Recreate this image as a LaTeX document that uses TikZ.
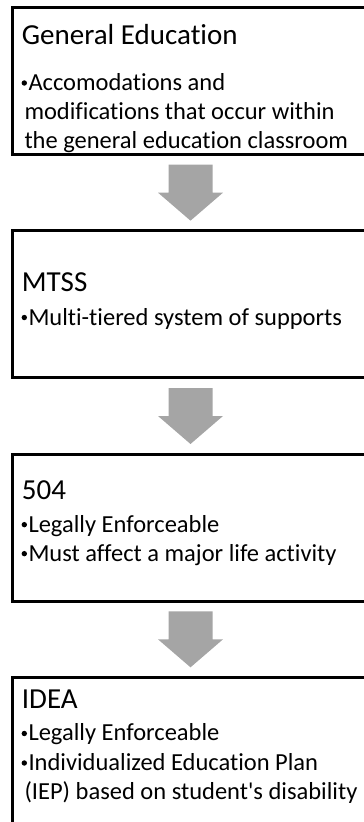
\documentclass[tikz,border=0pt]{standalone}
\usepackage{fontspec}
\setmainfont{Carlito}[Ligatures={NoCommon,NoRequired,NoContextual}]
\usetikzlibrary{positioning, calc}

\definecolor{arrowgray}{RGB}{165,165,165}

\begin{document}
\begin{tikzpicture}[x=1pt, y=-1pt,
    stage/.style={rectangle, draw=black, line width=3pt, minimum width=356pt, minimum height=147pt, outer sep=0pt, inner sep=0pt},
    title/.style={anchor=base west, inner sep=0pt, font=\fontsize{29}{35}\selectfont},
    item/.style={anchor=base west, inner sep=0pt, font=\fontsize{24.5}{29}\selectfont}
  ]
  \useasboundingbox (0,0) rectangle (364,822);
  \clip (0,0) rectangle (364,822);

  % Stages
  \node[stage] (s1) at (190.5,81) {};
  \node[stage, below=76.33pt of s1] (s2) {};
  \node[stage, below=76.33pt of s2] (s3) {};
  \node[stage, below=76.33pt of s3] (s4) {};

  % Arrows between stages
  \foreach \a/\b in {s1/s2, s2/s3, s3/s4} {
    \coordinate (m) at ($(\a.south)!0.5!(\b.north)$);
    \fill[arrowgray] ($(m)+(-22,-28)$) -- ($(m)+(22,-28)$) -- ($(m)+(22,0)$) -- ($(m)+(32.5,0)$)
      -- ($(m)+(0,28)$) -- ($(m)+(-32.5,0)$) -- ($(m)+(-22,0)$) -- cycle;
  }

  % General Education
  \node[title] (t1) at ($(s1.north west)+(9.2,37)$) {General Education};
  \node[item] (i1a) at ($(s1.north west)+(15.8,83)$) {Accomodations and};
  \node[item] (i1b) at ($(s1.north west)+(11.8,112)$) {modifications that occur within};
  \node[item] (i1c) at ($(s1.north west)+(11.8,141)$) {the general education classroom};

  % MTSS
  \node[title] (t2) at ($(s2.north west)+(9.2,60.2)$) {MTSS};
  \node[item] (i2a) at ($(s2.north west)+(15.8,94.2)$) {Multi-tiered system of supports};

  % 504
  \node[title] (t3) at ($(s3.north west)+(9.2,45.8)$) {504};
  \node[item] (i3a) at ($(s3.north west)+(15.8,78)$) {Legally Enforceable};
  \node[item] (i3b) at ($(s3.north west)+(15.8,107)$) {Must affect a major life activity};

  % IDEA
  \node[title] (t4) at ($(s4.north west)+(9.2,31.5)$) {IDEA};
  \node[item] (i4a) at ($(s4.north west)+(15.8,63.5)$) {Legally Enforceable};
  \node[item] (i4b) at ($(s4.north west)+(15.8,93)$) {Individualized Education Plan};
  \node[item] (i4c) at ($(s4.north west)+(11.8,122)$) {(IEP) based on student\textquotesingle s disability};

  % Bullets
  \foreach \i in {i1a, i2a, i3a, i3b, i4a, i4b}
    \fill ($(\i.base west)+(-4,-7.5)$) circle (2.7pt);
\end{tikzpicture}
\end{document}
